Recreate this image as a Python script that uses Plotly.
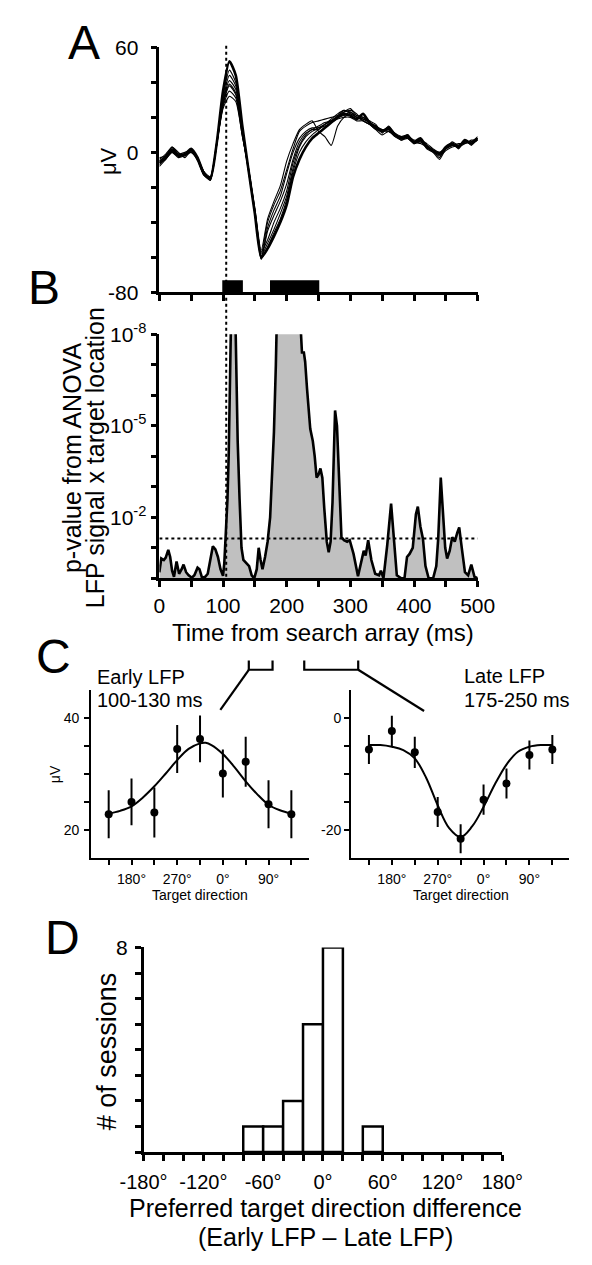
import math
import plotly.graph_objects as go

W, H = 592, 1265
FONT = "Arial, 'Liberation Sans', Helvetica, sans-serif"


def px(x):
    return x / W


def py(y):
    return 1 - y / H


# ---------------- Panel A: LFP traces (uV) ----------------
time_ms_a = list(range(0, 501, 10))
lfp_trace_1 = [-6,-3,1,-2,-1,2,-3,-12,-15,5, 35,52,44,16,-10,-35,-60,-55,-48,-40, -30,-14,-4,3,8,11,14,17,20,22, 21,19,22,17,14,12,14,10,8,9, 6,8,3,1,-1,3,5,3,7,5, 8]
lfp_trace_2 = [-4,-1,3,0,-3,1,-5,-13,-14,6, 32,47,40,14,-9,-33,-58,-40,-30,-22, -10,2,12,15,17,18,19,20,21,24, 22,20,20,18,16,11,15,11,9,8, 5,7,5,2,0,2,6,4,6,6, 9]
lfp_trace_3 = [-8,-4,0,-3,-2,0,-4,-11,-16,4, 30,44,38,13,-10,-34,-61,-45,-36,-28, -18,-4,6,11,13,15,17,18,20,23, 25,21,19,17,15,13,12,10,7,9, 7,6,4,1,-3,3,4,5,5,7, 7]
lfp_trace_4 = [-5,-2,2,-1,0,1,-3,-12,-15,5, 29,41,36,12,-10,-34,-59,-52,-44,-35, -25,-9,3,9,12,14,16,18,21,23, 24,22,18,16,15,12,13,11,8,10, 5,7,2,0,-4,2,5,2,7,4, 8]
lfp_trace_5 = [-7,-3,0,-2,-1,1,-4,-13,-16,4, 27,38,33,11,-11,-35,-60,-43,-33,-25, -12,0,8,12,14,14,15,17,19,20, 20,18,18,16,13,10,12,9,7,8, 5,6,3,0,-2,1,3,4,6,5, 7]
lfp_trace_6 = [-3,-2,3,-1,-2,2,-4,-12,-15,5, 26,35,31,10,-9,-33,-57,-50,-40,-32, -22,-6,4,10,13,13,16,18,20,21, 23,20,19,17,14,13,13,9,8,10, 6,7,4,1,0,2,4,3,5,6, 8]
lfp_trace_7 = [-6,-4,1,-2,-1,1,-3,-11,-14,4, 25,32,29,10,-9,-32,-56,-38,-28,-19, -5,5,13,16,18,12,9,4,15,20, 22,20,18,16,13,12,12,10,8,9, 6,5,3,1,-1,2,5,3,6,5, 7]
lfp_trace_8 = [-5,-2,2,-1,-1,0,-4,-13,-15,5, 28,39,34,12,-10,-35,-61,-54,-46,-38, -27,-11,0,6,10,13,16,19,22,24, 23,21,20,17,15,12,14,10,9,10, 6,7,4,1,-1,2,4,4,6,6, 8]
lfp_traces = [lfp_trace_2, lfp_trace_3, lfp_trace_4, lfp_trace_5,
              lfp_trace_6, lfp_trace_7, lfp_trace_8, lfp_trace_1]
a_yticks = [-80, 0, 60]
a_ytext = ["-80", "0", "60"]
early_window_ms = [100, 130]
late_window_ms = [175, 250]
onset_ms = 105

# ---------------- Panel B: -log10(p) of ANOVA ----------------
time_ms_b = [0,3,7,10,14,17,20,23,27,31,35,38,42,46,51,55,60,63,67,72,76,80,84,88,92,96,100,102,104,107,
             109,111,113,119,121,123,126,129,132,137,141,145,149,153,156,159,162,166,170,174,177,180,183,185,220,222,224,227,229,232,
             235,237,241,244,247,250,253,256,259,263,266,269,272,276,279,282,286,290,295,299,305,312,318,321,324,328,333,339,345,348,
             352,358,364,368,373,380,385,389,393,398,403,406,410,414,418,423,430,435,438,442,445,449,452,456,460,464,468,471,475,480,
             485,490,495,500]
neg_log10_p = [0.2,0.65,0.6,0.68,0.93,0.7,0.25,0.05,0.55,0.15,0.3,0.45,0.2,0.1,0.02,0.1,0.35,0.3,0.02,0.05,
               0.15,0.6,1.05,0.95,0.7,0.3,0.08,0.5,1.35,2.6,4.1,6.3,9,9,6.3,4.5,2.6,1.0,0.6,0.5,
               0.4,0.1,0.0,0.3,1.0,0.6,0.3,0.7,1.2,2.0,3.3,4.8,7.0,9,9,8.0,7.4,7.4,7.1,6.2,
               5.2,4.9,4.5,4.0,3.3,3.4,3.6,3.3,2.3,1.2,0.85,1.2,2.5,5.5,5.0,3.5,1.35,1.25,1.2,1.25,
               0.8,0.07,0.7,0.9,0.75,1.25,0.6,0.15,0.1,0.25,0.0,1.1,2.45,1.4,0.1,0.0,0.0,0.7,0.8,1.0,
               2.1,2.35,1.7,1.3,0.4,0.0,0.0,0.4,1.3,3.3,2.3,1.0,0.65,0.9,1.35,1.2,1.5,1.67,1.0,0.2,
               0.1,0.45,0.05,0.0]
p_threshold = 0.05
b_xticks = [0, 100, 200, 300, 400, 500]
b_xtext = ["0", "100", "200", "300", "400", "500"]
b_yticks = [2, 5, 8]
b_ytext = ["10<sup>-2</sup>", "10<sup>-5</sup>", "10<sup>-8</sup>"]

# ---------------- Panel C: tuning curves ----------------
target_dir = [135, 180, 225, 270, 315, 360, 405, 450, 495]
dir_label_vals = [180, 270, 360, 450]
dir_label_text = ["180°", "270°", "0°", "90°"]
dir_minor_vals = [135, 225, 315, 405, 495]
early_mean = [22.8, 25.0, 23.1, 34.5, 36.3, 30.1, 32.2, 24.6, 22.8]
early_sem = [4.3, 4.2, 4.5, 4.3, 4.2, 4.3, 4.5, 4.3, 4.3]
early_fit_x = [135, 157.5, 180, 202.5, 225, 247.5, 270, 292.5, 315, 326.25, 337.5, 360, 382.5, 405, 427.5, 450, 472.5, 495]
early_fit_y = [22.9, 23.4, 24.2, 25.8, 27.8, 30.1, 32.5, 34.5, 35.5, 35.6, 35.2, 33.6, 31.3, 28.7, 26.4, 24.5, 23.5, 22.9]
late_mean = [-5.6, -2.3, -6.1, -16.8, -21.6, -14.6, -11.7, -6.6, -5.6]
late_sem = [2.6, 2.75, 2.8, 2.7, 2.6, 2.7, 2.7, 2.6, 2.6]
late_fit_x = [135, 157.5, 180, 202.5, 225, 247.5, 270, 292.5, 315, 337.5, 360, 382.5, 405, 427.5, 450, 472.5, 495]
late_fit_y = [-4.8, -4.8, -5.1, -5.7, -7.2, -10.7, -15.6, -19.7, -21.3, -19.4, -15.9, -11.8, -8.3, -6.0, -5.1, -4.8, -4.8]
early_yticks = [20, 40]
late_yticks = [-20, 0]

# ---------------- Panel D: histogram ----------------
diff_bin_centers = [-70, -50, -30, -10, 10, 50]
diff_counts = [1, 1, 2, 5, 8, 1]
d_xticks = [-180, -120, -60, 0, 60, 120, 180]
d_xtext = ["-180°", "-120°", "-60°", "0°", "60°", "120°", "180°"]
d_yticks = [8]
d_ytext = ["8"]

fig = go.Figure()

for i, tr in enumerate(lfp_traces):
    fig.add_trace(go.Scatter(
        x=time_ms_a, y=tr, mode="lines", xaxis="x", yaxis="y",
        line=dict(color="black", width=2.6 if i == len(lfp_traces) - 1 else 1.1,
                  shape="spline", smoothing=0.6),
        hoverinfo="skip"))

fig.add_trace(go.Scatter(
    x=time_ms_b, y=neg_log10_p, mode="lines", xaxis="x2", yaxis="y2",
    fill="tozeroy", fillcolor="#c0c0c0",
    line=dict(color="black", width=2.6), hoverinfo="skip"))

fig.add_trace(go.Scatter(
    x=early_fit_x, y=early_fit_y, mode="lines", xaxis="x3", yaxis="y3",
    line=dict(color="black", width=2, shape="spline"), hoverinfo="skip"))
fig.add_trace(go.Scatter(
    x=target_dir, y=early_mean, mode="markers", xaxis="x3", yaxis="y3",
    marker=dict(color="black", size=8),
    error_y=dict(type="data", array=early_sem, thickness=2, width=0, color="black"),
    hoverinfo="skip"))

fig.add_trace(go.Scatter(
    x=late_fit_x, y=late_fit_y, mode="lines", xaxis="x4", yaxis="y4",
    line=dict(color="black", width=2, shape="spline"), hoverinfo="skip"))
fig.add_trace(go.Scatter(
    x=target_dir, y=late_mean, mode="markers", xaxis="x4", yaxis="y4",
    marker=dict(color="black", size=8),
    error_y=dict(type="data", array=late_sem, thickness=2, width=0, color="black"),
    hoverinfo="skip"))

fig.add_trace(go.Bar(
    x=diff_bin_centers, y=diff_counts, width=20, xaxis="x5", yaxis="y5",
    marker=dict(color="white", line=dict(color="black", width=2.5)),
    hoverinfo="skip"))


def minor(lw=2.5, ln=6, **kw):
    d = dict(ticks="outside", ticklen=ln, tickwidth=lw, tickcolor="black", showgrid=False)
    d.update(kw)
    return d


def ax(lw=2.5, ln=6, size=21, **kw):
    d = dict(showline=True, linecolor="black", linewidth=lw, ticks="outside",
             ticklen=ln, tickwidth=lw, tickcolor="black", showgrid=False,
             zeroline=False, tickangle=0, tickmode="array",
             tickfont=dict(family=FONT, size=size, color="black"),
             fixedrange=True)
    d.update(kw)
    return d


ydom_a = [py(284), py(34)]
ydom_b = [py(575.7), py(326.7)]
xdom_ab = [px(146.5), px(491)]
ydom_c = [py(860.7), py(690)]
ydom_d = [py(1161), py(952.3)]

fig.update_layout(
    width=W, height=H, autosize=False,
    margin=dict(l=0, r=0, t=0, b=0),
    paper_bgcolor="white", plot_bgcolor="white",
    showlegend=False,
    font=dict(family=FONT, color="black"),
    xaxis=ax(domain=xdom_ab, range=[0, 500], anchor="y", tickvals=b_xticks,
             showticklabels=False, minor=minor(dtick=50, tick0=0)),
    yaxis=ax(domain=ydom_a, range=[-80, 60], anchor="x", tickvals=a_yticks,
             ticktext=a_ytext, ticklabelstandoff=8, minor=minor(dtick=20, tick0=0)),
    xaxis2=ax(domain=xdom_ab, range=[0, 500], anchor="y2", tickvals=b_xticks,
              ticktext=b_xtext, ticklabelstandoff=1, minor=minor(dtick=50, tick0=0)),
    yaxis2=ax(domain=ydom_b, range=[0, 8], anchor="x2", tickvals=b_yticks,
              ticktext=b_ytext, minor=minor(dtick=1, tick0=0)),
    xaxis3=ax(lw=2, ln=5, size=14, domain=[px(72.7), px(308.3)], range=[100.5, 529.5],
              anchor="y3", tickvals=dir_label_vals, ticktext=dir_label_text,
              ticklabelstandoff=3,
              minor=minor(lw=2, ln=5, tickmode="array", tickvals=dir_minor_vals)),
    yaxis3=ax(lw=2, ln=5, size=14, domain=ydom_c, range=[15, 45], anchor="x3",
              tickvals=early_yticks, ticktext=[str(v) for v in early_yticks],
              ticklabelstandoff=2,
              minor=minor(lw=2, ln=5, tickmode="array", tickvals=[25, 30, 35])),
    xaxis4=ax(lw=2, ln=5, size=14, domain=[px(354), px(590)], range=[100, 528],
              anchor="y4", tickvals=dir_label_vals, ticktext=dir_label_text,
              ticklabelstandoff=3,
              minor=minor(lw=2, ln=5, tickmode="array", tickvals=dir_minor_vals)),
    yaxis4=ax(lw=2, ln=5, size=14, domain=ydom_c, range=[-25, 5], anchor="x4",
              tickvals=late_yticks, ticktext=[str(v) for v in late_yticks],
              minor=minor(lw=2, ln=5, tickmode="array", tickvals=[-15, -10, -5])),
    xaxis5=ax(size=20, domain=[px(129.4), px(517.7)], range=[-180, 180], anchor="y5",
              tickvals=d_xticks, ticktext=d_xtext, ticklabelstandoff=4,
              minor=minor(dtick=20, tick0=0)),
    yaxis5=ax(domain=ydom_d, range=[0, 8], anchor="x5", tickvals=d_yticks,
              ticktext=d_ytext, ticklabelstandoff=3, minor=minor(dtick=1, tick0=0)),
)

shapes = []
shapes.append(dict(type="line", xref="x", yref="paper", x0=onset_ms, x1=onset_ms,
                   y0=py(574), y1=py(32), line=dict(color="black", width=2, dash="dot")))
thr = -math.log10(p_threshold)
shapes.append(dict(type="line", xref="x2", yref="y2", x0=0, x1=500, y0=thr, y1=thr,
                   line=dict(color="black", width=2, dash="dot")))
for w in (early_window_ms, late_window_ms):
    shapes.append(dict(type="rect", xref="x", yref="y", x0=w[0], x1=w[1], y0=-80, y1=-73.5,
                       fillcolor="black", line=dict(color="black", width=1.5)))


def path(points):
    return "M " + " L ".join(f"{px(x):.5f},{py(y):.5f}" for x, y in points)


for pts in ([(243.3, 659.5), (243.3, 669), (269, 669), (269, 659.5)],
            [(243.3, 669), (212.5, 710)],
            [(303.3, 659.5), (303.3, 669), (361.7, 669), (361.7, 659.5)],
            [(361.7, 669), (433, 711)]):
    shapes.append(dict(type="path", xref="paper", yref="paper", path=path(pts),
                       line=dict(color="black", width=2.2)))
fig.update_layout(shapes=shapes)


def ann(text, x, y, size, angle=0, xanchor="center"):
    fig.add_annotation(text=text, x=px(x), y=py(y), xref="paper", yref="paper",
                       showarrow=False, textangle=angle, xanchor=xanchor, yanchor="middle",
                       font=dict(family=FONT, size=size, color="black"))


ann("A", 65, 29, 48)
ann("B", 22, 279, 48)
ann("C", 32, 655, 48)
ann("D", 42, 942, 48)
ann("μV", 91, 150, 22, -90)
ann("p-value from ANOVA", 52, 453, 25, -90)
ann("LFP signal x target location", 77, 453, 25, -90)
ann("Time from search array (ms)", 323.5, 631, 24)
ann("Early LFP", 77, 676, 20, xanchor="left")
ann("100-130 ms", 77, 700, 20, xanchor="left")
ann("Late LFP", 474, 675, 20, xanchor="left")
ann("175-250 ms", 474, 700, 20, xanchor="left")
ann("μV", 33, 775, 14, -90)
ann("Target direction", 190, 899, 14)
ann("Target direction", 472.5, 899, 14)
ann("# of sessions", 90, 1058, 27, -90)
ann("Preferred target direction difference", 326, 1218, 25)
ann("(Early LFP – Late LFP)", 326, 1248, 25)

fig.write_html("out.html", post_script="document.body.style.margin='0px';",
               config={"displayModeBar": False})
